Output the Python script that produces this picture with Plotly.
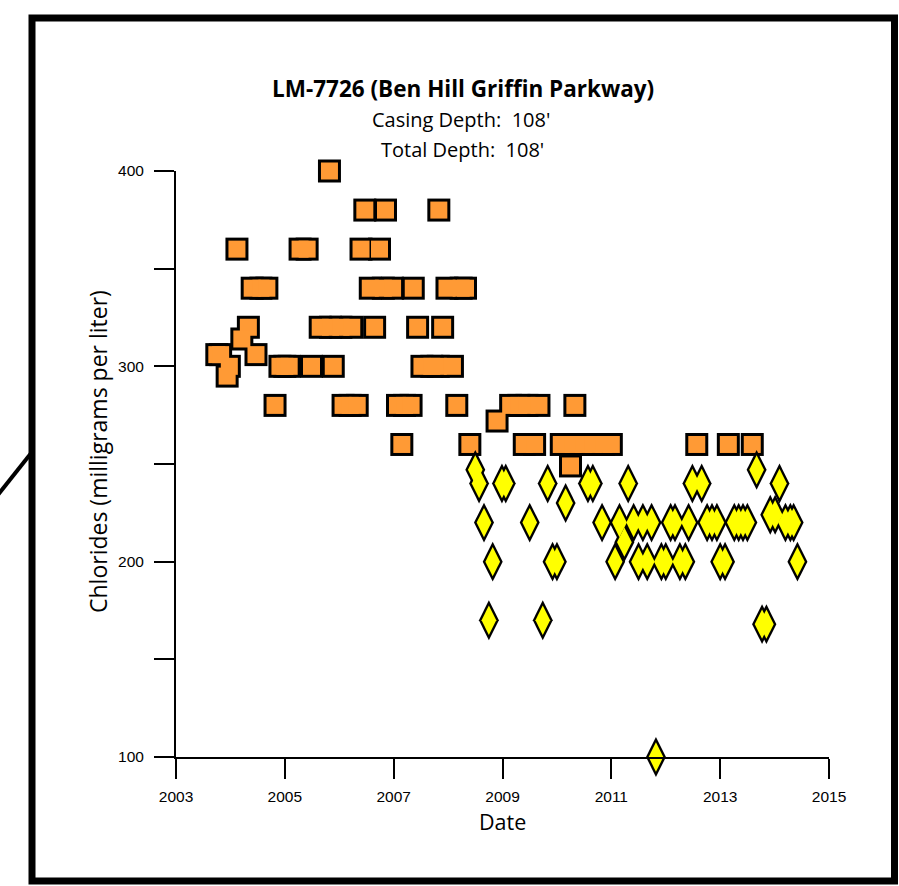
import plotly.graph_objects as go

# Orange squares (older samples)
sq_x = [2005.82,
        2006.47, 2006.85, 2007.83,
        2004.12, 2005.28, 2005.41, 2006.40, 2006.74,
        2004.40, 2004.56, 2004.67, 2006.57, 2006.81, 2006.98, 2007.36, 2007.98, 2008.24, 2008.32,
        2004.33, 2005.65, 2005.84, 2006.03, 2006.23, 2006.65, 2007.44, 2007.90,
        2004.21,
        2003.75, 2003.82, 2004.47,
        2003.98, 2004.91, 2005.00, 2005.08, 2005.49, 2005.89, 2007.52, 2007.70, 2007.82, 2008.08,
        2003.94,
        2004.82, 2006.07, 2006.20, 2006.33, 2007.07, 2007.20, 2007.32, 2008.16, 2009.15, 2009.30, 2009.45, 2009.67, 2010.33,
        2008.90,
        2007.15, 2008.40, 2009.40, 2009.59, 2010.08, 2010.30, 2010.49, 2010.67, 2010.86, 2011.00, 2012.57, 2013.15, 2013.59,
        2010.25]
sq_y = [400,
        380, 380, 380,
        360, 360, 360, 360, 360,
        340, 340, 340, 340, 340, 340, 340, 340, 340, 340,
        320, 320, 320, 320, 320, 320, 320, 320,
        314,
        306, 306, 306,
        300, 300, 300, 300, 300, 300, 300, 300, 300, 300,
        295,
        280, 280, 280, 280, 280, 280, 280, 280, 280, 280, 280, 280, 280,
        272,
        260, 260, 260, 260, 260, 260, 260, 260, 260, 260, 260, 260, 260,
        249]

# Yellow diamonds (newer samples)
dm_x = [2008.50, 2013.67,
        2008.57, 2008.99, 2009.06, 2009.83, 2010.57, 2010.66, 2011.31, 2012.49, 2012.66, 2014.09,
        2010.16,
        2008.66, 2009.50, 2010.83, 2011.15, 2011.41, 2011.58, 2011.74, 2012.09, 2012.17, 2012.42,
        2012.76, 2012.85, 2012.94, 2013.26, 2013.34, 2013.42, 2013.50, 2013.92, 2014.01, 2014.20,
        2014.29, 2014.35,
        2011.24,
        2008.82, 2009.92, 2010.00, 2011.07, 2011.50, 2011.66, 2011.92, 2012.00, 2012.26, 2012.36,
        2013.00, 2013.09, 2014.42,
        2008.75, 2009.74,
        2013.77, 2013.85,
        2011.82]
dm_y = [247, 247,
        240, 240, 240, 240, 240, 240, 240, 240, 240, 240,
        230,
        220, 220, 220, 220, 220, 220, 220, 220, 220, 220,
        220, 220, 220, 220, 220, 220, 220, 224, 224, 220,
        220, 220,
        210,
        200, 200, 200, 200, 200, 200, 200, 200, 200, 200,
        200, 200, 200,
        170, 170,
        168, 168,
        100]

y_tickvals = [100, 150, 200, 250, 300, 350, 400]
y_ticktext = ["100", "", "200", "", "300", "", "400"]
x_tickvals = [2003, 2005, 2007, 2009, 2011, 2013, 2015]
x_ticktext = ["2003", "2005", "2007", "2009", "2011", "2013", "2015"]

W, H = 899, 886
L, R, T, B = 176, 829, 171, 757  # plot area in page pixels


def px(x):
    return (x - L) / (R - L)


def py(y):
    return (B - y) / (B - T)


fig = go.Figure()
fig.add_trace(go.Scatter(x=sq_x, y=sq_y, mode="markers", cliponaxis=False, hoverinfo="skip",
                         marker=dict(symbol="square", size=23, color="black", line=dict(width=0))))
fig.add_trace(go.Scatter(x=sq_x, y=sq_y, mode="markers", cliponaxis=False,
                         marker=dict(symbol="square", size=17, color="#FF9A35", line=dict(width=0))))
fig.add_trace(go.Scatter(x=dm_x, y=dm_y, mode="markers", cliponaxis=False, hoverinfo="skip",
                         marker=dict(symbol="diamond-tall", size=28.5, color="black", line=dict(width=0))))
fig.add_trace(go.Scatter(x=dm_x, y=dm_y, mode="markers", cliponaxis=False,
                         marker=dict(symbol="diamond-tall", size=21, color="#FFFF00", line=dict(width=0))))

fig.update_layout(
    width=W, height=H,
    margin=dict(l=L, r=W - R, t=T, b=H - B),
    paper_bgcolor="white", plot_bgcolor="white",
    showlegend=False,
    font=dict(family="Liberation Sans, Arial", color="black"),
)
fig.update_xaxes(range=[2003, 2015], tickvals=x_tickvals, ticktext=x_ticktext,
                 showgrid=False, zeroline=False, showline=True, linecolor="black", linewidth=2,
                 ticks="outside", ticklen=20, tickwidth=2, tickcolor="black", ticklabelstandoff=4,
                 tickfont=dict(size=15.5, family="Liberation Sans, Arial"))
fig.update_yaxes(range=[100, 400], tickvals=y_tickvals, ticktext=y_ticktext,
                 showgrid=False, zeroline=False, showline=True, linecolor="black", linewidth=2,
                 ticks="outside", ticklen=20, tickwidth=2, tickcolor="black", ticklabelstandoff=7,
                 tickfont=dict(size=15.5, family="Liberation Sans, Arial"))

tfont = "Open Sans, sans-serif"
annots = [
    dict(text="<b>LM-7726 (Ben Hill Griffin Parkway)</b>", x=px(463), y=py(89), size=22.5),
    dict(text="Casing Depth:\u00a0 108'", x=px(461), y=py(120), size=20),
    dict(text="Total Depth:\u00a0 108'", x=px(462), y=py(149), size=20),
    dict(text="Date", x=px(502), y=py(821), size=21.5),
]
for a in annots:
    fig.add_annotation(text=a["text"], x=a["x"], y=a["y"], xref="paper", yref="paper",
                       showarrow=False, xanchor="center", yanchor="middle",
                       font=dict(family=tfont, size=a["size"], color="black"))
fig.add_annotation(text="Chlorides (milligrams per liter)", x=px(98), y=py(452),
                   xref="paper", yref="paper", showarrow=False, textangle=-90,
                   xanchor="center", yanchor="middle",
                   font=dict(family=tfont, size=23, color="black"))

# Outer frame and stray diagonal stroke
fig.add_shape(type="rect", xref="paper", yref="paper",
              x0=px(32), x1=px(894.5), y0=py(881), y1=py(18),
              line=dict(color="black", width=7), layer="above")
fig.add_shape(type="line", xref="paper", yref="paper",
              x0=px(-3), y0=py(496), x1=px(32), y1=py(452),
              line=dict(color="black", width=4))

fig.write_html("out.html",
               config={"displayModeBar": False},
               post_script="document.body.style.margin='0';"
                           "document.body.style.overflow='hidden';"
                           "document.documentElement.style.overflow='hidden';")
